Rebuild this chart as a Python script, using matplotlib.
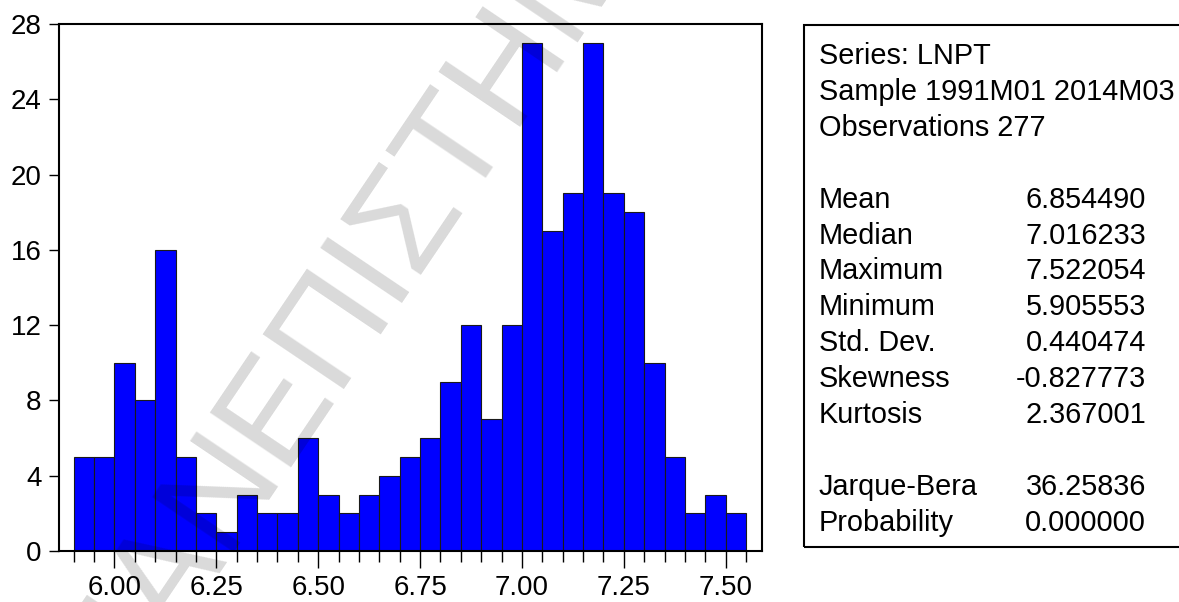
import numpy as np
import matplotlib
matplotlib.use("Agg")
import matplotlib.pyplot as plt
from matplotlib.patches import Rectangle

# histogram of LNPT, bins of width 0.05 starting at 5.90
bin_start = 5.90
bin_width = 0.05
counts = [5, 5, 10, 8, 16, 5, 2, 1, 3, 2, 2, 6, 3, 2, 3, 4, 5, 6, 9, 12, 7, 12,
          27, 17, 19, 27, 19, 18, 10, 5, 2, 3, 2]

x_major = [6.00, 6.25, 6.50, 6.75, 7.00, 7.25, 7.50]
y_ticks = [0, 4, 8, 12, 16, 20, 24, 28]

header_lines = ["Series: LNPT", "Sample 1991M01 2014M03", "Observations 277"]
stat_names = ["Mean", "Median", "Maximum", "Minimum", "Std. Dev.", "Skewness", "Kurtosis"]
stat_values = ["6.854490", "7.016233", "7.522054", "5.905553", "0.440474", "-0.827773", "2.367001"]
test_names = ["Jarque-Bera", "Probability"]
test_values = ["36.25836", "0.000000"]

watermark = "ΠΑΝΕΠΙΣΤΗΜΙΟ ΠΕΙΡΑΙΩΣ"

plt.rcParams['font.family'] = ['Liberation Sans', 'DejaVu Sans']

W, H = 1179, 602
fig = plt.figure(figsize=(W / 100, H / 100), dpi=100)


def fx(px):
    return px / W


def fy(py):
    return 1 - py / H


ax = fig.add_axes([fx(59), fy(551), fx(762) - fx(59), fy(24) - fy(551)])

edges = np.round(bin_start + bin_width * np.arange(len(counts) + 1), 2)
ax.bar(edges[:-1], counts, width=bin_width, align='edge', color='#0000ff',
       edgecolor='#1a1a1a', linewidth=0.8)

ax.set_xlim(5.864, 7.589)
ax.set_ylim(0, 28)
ax.set_yticks(y_ticks)
ax.set_xticks(x_major)
ax.set_xticklabels(["%.2f" % v for v in x_major])
ax.set_xticks(edges, minor=True)
ax.tick_params(axis='both', which='major', labelsize=20, width=1, color='black', direction='out')
ax.tick_params(axis='x', which='major', length=12.5, pad=5)
ax.tick_params(axis='x', which='minor', length=8, width=1)
ax.tick_params(axis='y', which='major', length=7.5, pad=5)
for s in ax.spines.values():
    s.set_linewidth(1.5)

# stats box
fig.patches.append(Rectangle((fx(804), fy(547)), 1.02 - fx(804), fy(25) - fy(547),
                             transform=fig.transFigure, fill=False,
                             edgecolor='black', linewidth=1.5))

fs = 20.8
lab_x = fx(819)
val_x = fx(1146)
line_h = 35.9
base0 = 64
for i, t in enumerate(header_lines):
    fig.text(lab_x, fy(base0 + i * line_h), t, fontsize=fs, va='baseline', ha='left')
for i, (n, v) in enumerate(zip(stat_names, stat_values)):
    y = fy(base0 + (i + 4) * line_h)
    fig.text(lab_x, y, n, fontsize=fs, va='baseline', ha='left')
    fig.text(val_x, y, v, fontsize=fs, va='baseline', ha='right')
for i, (n, v) in enumerate(zip(test_names, test_values)):
    y = fy(base0 + (i + 12) * line_h)
    fig.text(lab_x, y, n, fontsize=fs, va='baseline', ha='left')
    fig.text(val_x, y, v, fontsize=fs, va='baseline', ha='right')

# diagonal watermark
fig.text(fx(118), fy(724), watermark, fontsize=102, rotation=56,
         rotation_mode='anchor', ha='left', va='baseline',
         color='black', alpha=0.15, zorder=10)

fig.savefig("out.png", dpi=100)
